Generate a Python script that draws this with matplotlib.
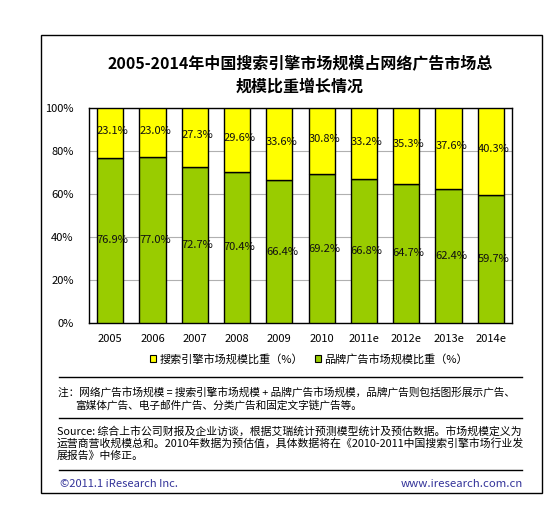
import matplotlib
matplotlib.use("Agg")
import matplotlib.pyplot as plt
from matplotlib.patches import Rectangle
from matplotlib.lines import Line2D
import numpy as np

plt.rcParams['font.family'] = ['Noto Sans CJK SC', 'DejaVu Sans']

years = ['2005', '2006', '2007', '2008', '2009', '2010', '2011e', '2012e', '2013e', '2014e']
search_share = [23.1, 23.0, 27.3, 29.6, 33.6, 30.8, 33.2, 35.3, 37.6, 40.3]
brand_share = [76.9, 77.0, 72.7, 70.4, 66.4, 69.2, 66.8, 64.7, 62.4, 59.7]
yticks = [0, 20, 40, 60, 80, 100]
ytick_labels = ['0%', '20%', '40%', '60%', '80%', '100%']
title = '2005-2014年中国搜索引擎市场规模占网络广告市场总\n规模比重增长情况'
legend_labels = ['搜索引擎市场规模比重（%）', '品牌广告市场规模比重（%）']
note_lines = ['注：网络广告市场规模 = 搜索引擎市场规模 + 品牌广告市场规模，品牌广告则包括图形展示广告、',
              '富媒体广告、电子邮件广告、分类广告和固定文字链广告等。']
source_lines = ['Source: 综合上市公司财报及企业访谈，根据艾瑞统计预测模型统计及预估数据。市场规模定义为',
                '运营商营收规模总和。2010年数据为预估值，具体数据将在《2010-2011中国搜索引擎市场行业发',
                '展报告》中修正。']
footer_left = '©2011.1 iResearch Inc.'
footer_right = 'www.iresearch.com.cn'

W, H = 553, 511
fig = plt.figure(figsize=(W / 100, H / 100), dpi=100)
fig.patch.set_facecolor('white')

def fx(x):
    return x / W

def fy(y):
    return 1 - y / H

# outer frame
fig.add_artist(Rectangle((fx(41), fy(493)), fx(542) - fx(41), fy(35) - fy(493),
                         transform=fig.transFigure, fill=False, edgecolor='black', lw=1.0))

ax = fig.add_axes([fx(89), fy(323), fx(512) - fx(89), fy(108) - fy(323)])
x = np.arange(len(years))
green = '#99CC00'
yellow = '#FFFF00'
bw = 0.62
ax.bar(x, brand_share, width=bw, color=green, edgecolor='black', linewidth=1.0, zorder=3)
ax.bar(x, search_share, bottom=brand_share, width=bw, color=yellow, edgecolor='black', linewidth=1.0, zorder=3)
for i in range(len(years)):
    ax.text(x[i] + 0.06, brand_share[i] / 2, f'{brand_share[i]:.1f}%', ha='center', va='center',
            fontsize=8, zorder=4, color='#111111')
    ax.text(x[i] + 0.06, brand_share[i] + search_share[i] / 2 + 1.0, f'{search_share[i]:.1f}%', ha='center',
            va='center', fontsize=8, zorder=4, color='#111111')

ax.set_xlim(-0.5, len(years) - 0.5)
ax.set_ylim(0, 100)
ax.set_yticks(yticks)
ax.set_yticklabels(ytick_labels, fontsize=8)
ax.set_xticks(x)
ax.set_xticklabels(years, fontsize=8)
ax.tick_params(length=0, pad=8)
ax.tick_params(axis='y', pad=11)
ax.yaxis.grid(True, color='#b0b0b0', lw=0.8, zorder=0)
ax.set_axisbelow(True)
for s in ax.spines.values():
    s.set_color('black')
    s.set_linewidth(1.0)

fig.text(fx(300), fy(75), title, ha='center', va='center', fontsize=11.5, fontweight='bold',
         linespacing=1.6)

handles = [Rectangle((0, 0), 1, 1, facecolor=yellow, edgecolor='black', lw=0.8),
           Rectangle((0, 0), 1, 1, facecolor=green, edgecolor='black', lw=0.8)]
fig.legend(handles, legend_labels, loc='center', bbox_to_anchor=(fx(309), fy(359)), ncol=2,
           frameon=False, fontsize=8, handlelength=0.55, handleheight=0.55, handletextpad=0.3,
           columnspacing=1.0)

for yy in [377, 418, 470]:
    fig.add_artist(Line2D([fx(59), fx(522)], [fy(yy), fy(yy)], transform=fig.transFigure,
                          color='black', lw=1.0))

fig.text(fx(58), fy(392), note_lines[0], fontsize=7.7, va='center', ha='left')
fig.text(fx(75), fy(405), note_lines[1], fontsize=7.7, va='center', ha='left')
for i, line in enumerate(source_lines):
    fig.text(fx(57), fy(431 + i * 12.5), line, fontsize=7.8, va='center', ha='left')
fig.text(fx(60), fy(484), footer_left, fontsize=8, va='center', ha='left', color='#333399')
fig.text(fx(523), fy(484), footer_right, fontsize=8.2, va='center', ha='right', color='#333399')

fig.savefig('out.png', dpi=100, facecolor='white')
